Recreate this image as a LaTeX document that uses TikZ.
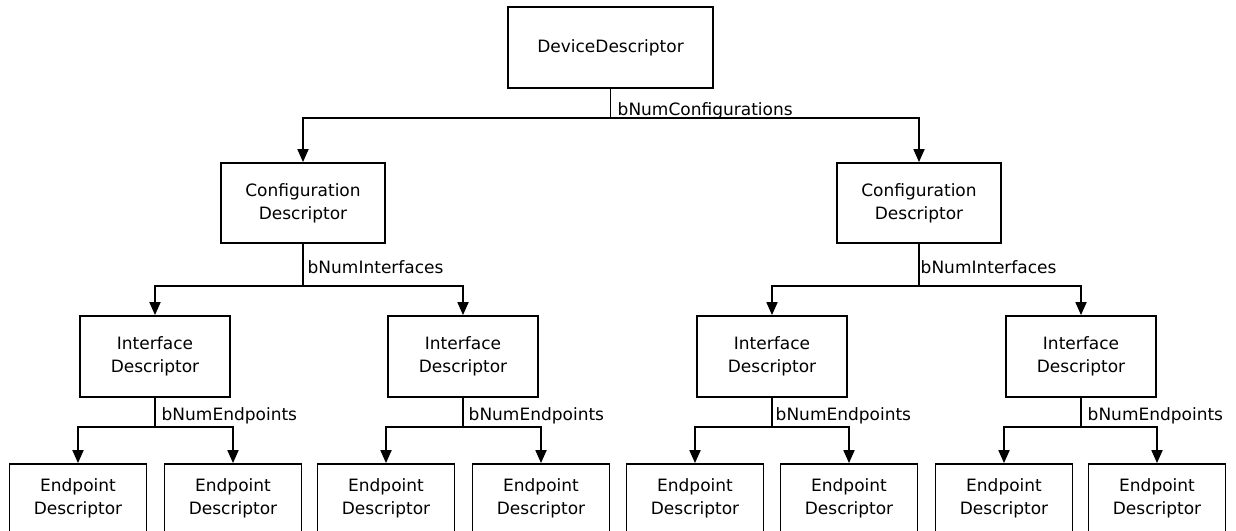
\documentclass[tikz,border=0pt]{standalone}
\usepackage{fontspec}
\setsansfont{DejaVu Sans}
\usetikzlibrary{arrows.meta}

\tikzset{
  descbox/.style={draw, line width=1.8pt, inner sep=0pt, align=center,
    font=\sffamily\fontsize{17}{23}\selectfont},
  flow/.style={line width=1.8pt, -{Triangle[width=11pt,length=13pt]}},
  countlbl/.style={anchor=base west, inner sep=0pt,
    font=\sffamily\fontsize{17}{20}\selectfont}
}

\begin{document}
\begin{tikzpicture}[x=1pt, y=-1pt]
\useasboundingbox (0,0) rectangle (1236,530);
\clip (0,0) rectangle (1236,530);
\fill[white] (0,0) rectangle (1236,530);

% device at the top
\node[descbox, minimum width=205pt, minimum height=81pt] (dev) at (610.5,47.5) {DeviceDescriptor};

% configurations
\foreach \i/\x in {1/303, 2/919}{
  \node[descbox, minimum width=164pt, minimum height=80pt] (cfg\i) at (\x,203) {Configuration\\Descriptor};
}
% interfaces
\foreach \i/\x in {1/155, 2/463, 3/772, 4/1081}{
  \node[descbox, minimum width=150pt, minimum height=81pt] (ifc\i) at (\x,356.5) {Interface\\Descriptor};
}
% endpoints, cut off by the bottom edge
\foreach \i/\x in {1/78, 2/233, 3/386, 4/541, 5/695, 6/849, 7/1004, 8/1157}{
  \node[descbox, minimum width=137pt, minimum height=68pt] (ep\i) at (\x,498) {Endpoint\\Descriptor};
}

% device -> configurations
\coordinate (busD) at (dev.south |- 0,118);
\draw[flow] (dev.south) -- (busD) -| (cfg1.north);
\draw[flow] (busD) -| (cfg2.north);
\node[countlbl] (nconf) at (617.5,115) {bNumConfigurations};

% configurations -> interfaces
\foreach \c/\a/\b/\lx in {1/1/2/307.5, 2/3/4/920.5}{
  \coordinate (busC\c) at (cfg\c.south |- 0,286);
  \draw[flow] (cfg\c.south) -- (busC\c) -| (ifc\a.north);
  \draw[flow] (busC\c) -| (ifc\b.north);
  \node[countlbl] (nifc\c) at (\lx,273) {bNumInterfaces};
}

% interfaces -> endpoints
\foreach \f/\a/\b/\lx in {1/1/2/161.5, 2/3/4/468.5, 3/5/6/775.5, 4/7/8/1087.5}{
  \coordinate (busI\f) at (ifc\f.south |- 0,427);
  \draw[flow] (ifc\f.south) -- (busI\f) -| (ep\a.north);
  \draw[flow] (busI\f) -| (ep\b.north);
  \node[countlbl] (nep\f) at (\lx,420) {bNumEndpoints};
}
\end{tikzpicture}
\end{document}
